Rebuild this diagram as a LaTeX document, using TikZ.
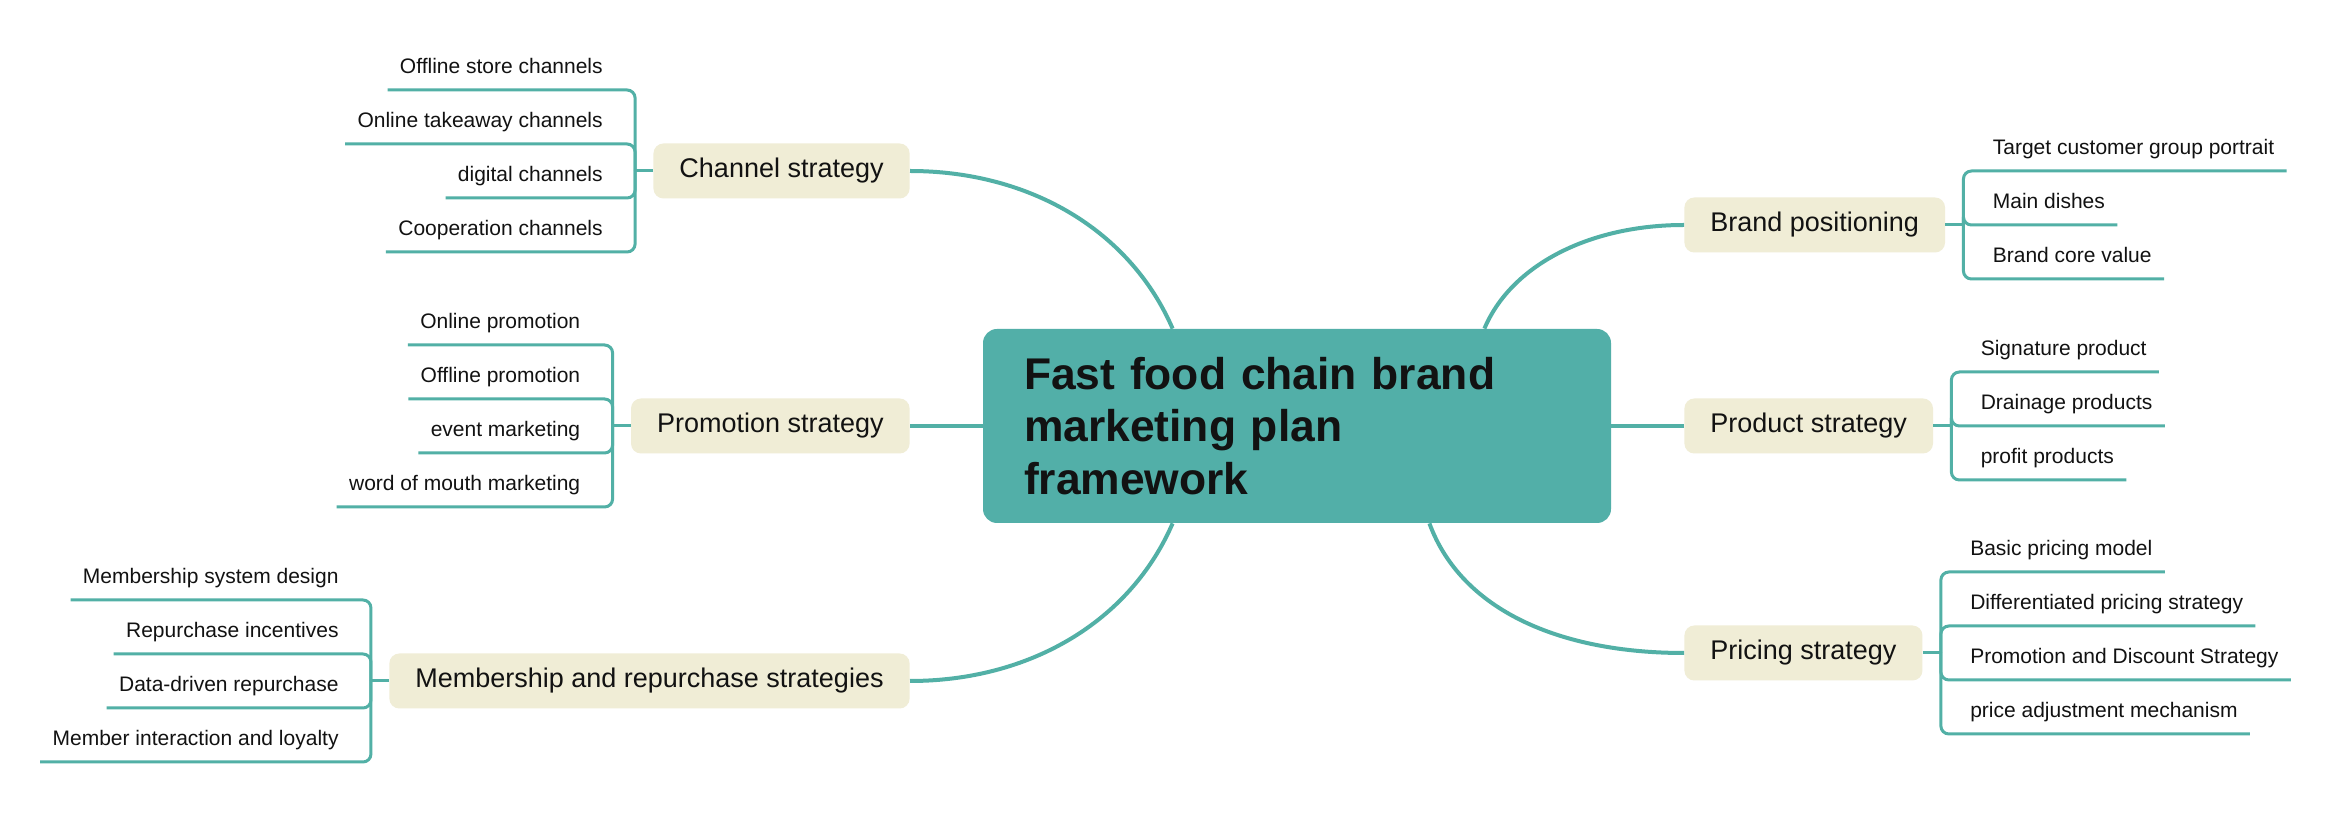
\documentclass[tikz,border=0pt]{standalone}
\usepackage{fontspec}
\setmainfont{Liberation Sans}
\usetikzlibrary{calc}

\definecolor{mapteal}{HTML}{52AFA8}
\definecolor{mapline}{HTML}{52B0A6}
\definecolor{mapbeige}{HTML}{F0EDD6}
\definecolor{maptext}{HTML}{121212}

\tikzset{
    branchbox/.style={fill=mapbeige, text=maptext, rounded corners=5pt, inner xsep=13pt, minimum height=27.5pt, font=\fontsize{13.5}{16}\selectfont},
    leafL/.style={anchor=south east, inner xsep=6pt, inner ysep=8pt, text depth=0pt, text=maptext, font=\fontsize{10.5}{12.6}\selectfont},
    leafR/.style={leafL, anchor=south west},
    leafline/.style={draw=mapline, line width=1.5pt, rounded corners=4pt},
    mainline/.style={draw=mapline, line width=2pt},
}

\begin{document}
\begin{tikzpicture}[x=0.5pt, y=-0.5pt]
                    \useasboundingbox (0,0) rectangle (2335,822);
                    \fill[white] (0,0) rectangle (2335,822);

                    % centre
                    \node [fill=mapteal, text=maptext, rounded corners=7pt, text width=273pt, inner xsep=20.5pt, minimum height=97pt, align=left,
                           font=\fontsize{22.2}{26.2}\selectfont\bfseries] (fc) at (1297,426) {Fast food chain brand\\marketing plan\\framework};

                    % branches
                    \node [branchbox, anchor=east] (chs) at (910,171) {Channel strategy};
                    \node [branchbox, anchor=east] (prs) at (910,426) {Promotion strategy};
                    \node [branchbox, anchor=east] (mrs) at (910,681) {Membership and repurchase strategies};
                    \node [branchbox, anchor=west] (bpo) at (1684,225) {Brand positioning};
                    \node [branchbox, anchor=west] (pds) at (1684,426) {Product strategy};
                    \node [branchbox, anchor=west] (pcs) at (1684,653) {Pricing strategy};

                    \coordinate (chT) at ([xshift=-9pt]chs.west);
                    \coordinate (prT) at ([xshift=-9pt]prs.west);
                    \coordinate (mrT) at ([xshift=-9pt]mrs.west);
                    \coordinate (bpT) at ([xshift=9pt]bpo.east);
                    \coordinate (pdT) at ([xshift=9pt]pds.east);
                    \coordinate (pcT) at ([xshift=9pt]pcs.east);

                    % leaves
                    \node [leafL] (ch1) at ($(chT)+(-20,-81)$) {Offline store channels};
                    \node [leafL] (ch2) at ($(chT)+(-20,-27)$) {Online takeaway channels};
                    \node [leafL] (ch3) at ($(chT)+(-20,27)$) {digital channels};
                    \node [leafL] (ch4) at ($(chT)+(-20,81)$) {Cooperation channels};

                    \node [leafL] (pr1) at ($(prT)+(-20,-81)$) {Online promotion};
                    \node [leafL] (pr2) at ($(prT)+(-20,-27)$) {Offline promotion};
                    \node [leafL] (pr3) at ($(prT)+(-20,27)$) {event marketing};
                    \node [leafL] (pr4) at ($(prT)+(-20,81)$) {word of mouth marketing};

                    \node [leafL] (mr1) at ($(mrT)+(-20,-81)$) {Membership system design};
                    \node [leafL] (mr2) at ($(mrT)+(-20,-27)$) {Repurchase incentives};
                    \node [leafL] (mr3) at ($(mrT)+(-20,27)$) {Data-driven repurchase};
                    \node [leafL] (mr4) at ($(mrT)+(-20,81)$) {Member interaction and loyalty};

                    \node [leafR] (bp1) at ($(bpT)+(17,-54)$) {Target customer group portrait};
                    \node [leafR] (bp2) at ($(bpT)+(17,0)$) {Main dishes};
                    \node [leafR] (bp3) at ($(bpT)+(17,54)$) {Brand core value};

                    \node [leafR] (pd1) at ($(pdT)+(17,-54)$) {Signature product};
                    \node [leafR] (pd2) at ($(pdT)+(17,0)$) {Drainage products};
                    \node [leafR] (pd3) at ($(pdT)+(17,54)$) {profit products};

                    \node [leafR] (pc1) at ($(pcT)+(17,-81)$) {Basic pricing model};
                    \node [leafR] (pc2) at ($(pcT)+(17,-27)$) {Differentiated pricing strategy};
                    \node [leafR] (pc3) at ($(pcT)+(17,27)$) {Promotion and Discount Strategy};
                    \node [leafR] (pc4) at ($(pcT)+(17,81)$) {price adjustment mechanism};

                    % leaf brackets
                    \draw[leafline] (chs.west) -- (chT);
                    \draw[leafline] (prs.west) -- (prT);
                    \draw[leafline] (mrs.west) -- (mrT);
                    \draw[leafline] (bpo.east) -- (bpT);
                    \draw[leafline] (pds.east) -- (pdT);
                    \draw[leafline] (pcs.east) -- (pcT);
                    \foreach \i in {1,...,4} {
                        \draw[leafline] (chT) |- (ch\i.south west);
                        \draw[leafline] (prT) |- (pr\i.south west);
                        \draw[leafline] (mrT) |- (mr\i.south west);
                        \draw[leafline] (pcT) |- (pc\i.south east);
                    }
                    \foreach \i in {1,...,3} {
                        \draw[leafline] (bpT) |- (bp\i.south east);
                        \draw[leafline] (pdT) |- (pd\i.south east);
                    }

                    % main connectors
                    \draw[mainline] (chs.east) .. controls +(119,0) and +(-43,-99) .. ([xshift=95pt]fc.north west);
                    \draw[mainline] (prs.east) -- (fc.west);
                    \draw[mainline] (mrs.east) .. controls +(119,0) and +(-43,99) .. ([xshift=95pt]fc.south west);
                    \draw[mainline] (bpo.west) .. controls +(-94,0) and +(27,-64) .. ([xshift=-63.5pt]fc.north east);
                    \draw[mainline] (pds.west) -- (fc.east);
                    \draw[mainline] (pcs.west) .. controls +(-124,0) and +(32,87) .. ([xshift=-91pt]fc.south east);
\end{tikzpicture}
\end{document}
